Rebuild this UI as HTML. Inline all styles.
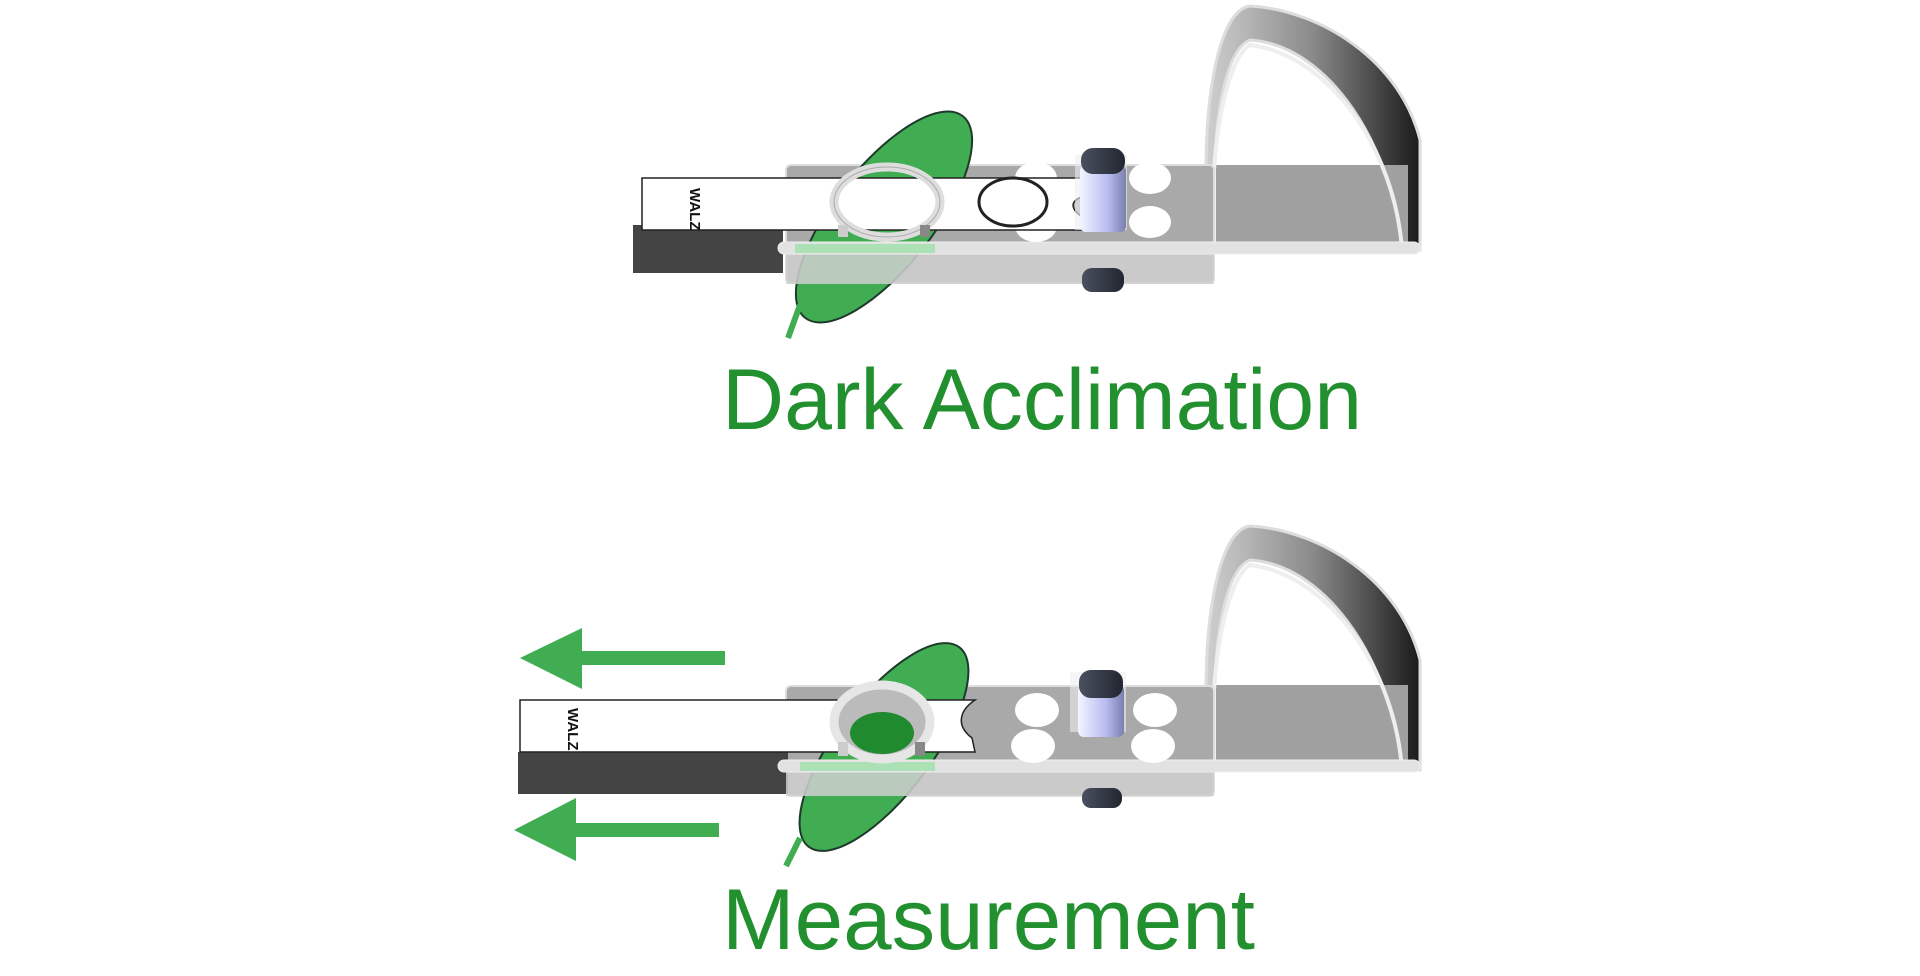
<!DOCTYPE html>
<html><head><meta charset="utf-8"><style>
html,body{margin:0;padding:0;background:#fff;width:1920px;height:976px;overflow:hidden}
svg{display:block}
text{font-family:"Liberation Sans",sans-serif}
</style></head><body>
<svg width="1920" height="976" viewBox="0 0 1920 976" xmlns="http://www.w3.org/2000/svg">
<defs>
<linearGradient id="clipg" x1="0" x2="1" y1="0" y2="0">
<stop offset="0" stop-color="#cfcfcf"/><stop offset="0.5" stop-color="#8a8a8a"/><stop offset="1" stop-color="#1a1a1a"/></linearGradient>
<linearGradient id="post" x1="0" x2="1"><stop offset="0" stop-color="#f4f4ff"/><stop offset="0.6" stop-color="#b8bcf0"/><stop offset="1" stop-color="#7a7fae"/></linearGradient>
<linearGradient id="cap" x1="0" x2="1"><stop offset="0" stop-color="#4a5060"/><stop offset="1" stop-color="#222630"/></linearGradient>
<g id="clip">
<path d="M1206,170 C1206,90 1220,10 1250,6 C1320,10 1400,60 1420,140 L1420,250 L1400,250 C1395,150 1330,45 1250,40 C1225,50 1215,120 1215,170 Z" fill="url(#clipg)" stroke="#ddd" stroke-width="3"/>
<rect x="1214" y="165" width="194" height="82" fill="#a0a0a0"/>
<path d="M1214,247 L1214,170 C1218,110 1232,55 1250,45 C1330,55 1395,150 1402,250" fill="none" stroke="#eee" stroke-width="4"/>
</g>
</defs>

<!-- TOP -->
<g>
<use href="#clip"/>
<rect x="786" y="165" width="428" height="118" rx="5" fill="#a9a9a9" stroke="#ddd" stroke-width="2"/>
<rect x="633" y="225" width="150" height="48" fill="#444"/>
<ellipse cx="884" cy="217" rx="128" ry="50" transform="rotate(-52 884 217)" fill="#41ad53" stroke="#1d3a2a" stroke-width="2"/>
<path d="M800,305 L788,338" stroke="#41ad53" stroke-width="6"/>
<rect x="786" y="244" width="428" height="40" fill="#d0d0d0" opacity="0.85"/>
<rect x="778" y="242" width="642" height="12" rx="6" fill="#e2e2e2" stroke="#eee"/>
<rect x="795" y="244" width="140" height="9" fill="#9fe0aa" opacity="0.8"/>
<ellipse cx="1036" cy="178" rx="21" ry="16" fill="#fff"/>
<ellipse cx="1150" cy="178" rx="21" ry="16" fill="#fff"/>
<ellipse cx="1150" cy="222" rx="21" ry="16" fill="#fff"/>
<ellipse cx="1036" cy="226" rx="21" ry="16" fill="#fff"/>
<path d="M642,178 L1085,178 L1085,196 C1068,200 1068,212 1093,222 L1093,230 L642,230 Z" fill="#fff" stroke="#222" stroke-width="1.5"/>
<text transform="translate(690,188) rotate(90)" font-size="15" font-weight="bold" fill="#111">WALZ</text>
<ellipse cx="1013" cy="202" rx="34" ry="24" fill="none" stroke="#222" stroke-width="3"/>
<ellipse cx="887" cy="202" rx="53" ry="35" fill="none" stroke="#ddd" stroke-width="9"/>
<ellipse cx="887" cy="202" rx="53" ry="35" fill="none" stroke="#aaa" stroke-width="1"/>
<rect x="838" y="225" width="10" height="12" fill="#ccc"/><rect x="920" y="225" width="10" height="12" fill="#888"/>
<rect x="1075" y="155" width="52" height="75" fill="#eee" opacity="0.6"/>
<rect x="1080" y="165" width="46" height="67" rx="6" fill="url(#post)"/>
<rect x="1081" y="148" width="44" height="26" rx="12" fill="url(#cap)"/>
<rect x="1082" y="268" width="42" height="24" rx="10" fill="url(#cap)"/>
<text x="722" y="429" font-size="86" fill="#23902f" textLength="640" lengthAdjust="spacingAndGlyphs">Dark Acclimation</text>
</g>

<!-- BOTTOM -->
<g>
<g transform="translate(0,520)"><use href="#clip"/></g>
<rect x="786" y="686" width="428" height="110" rx="5" fill="#a9a9a9" stroke="#ddd" stroke-width="2"/>
<rect x="518" y="752" width="270" height="42" fill="#444"/>
<ellipse cx="884" cy="747" rx="125" ry="48" transform="rotate(-53 884 747)" fill="#41ad53" stroke="#1d3a2a" stroke-width="2"/>
<path d="M800,838 L786,866" stroke="#41ad53" stroke-width="6"/>
<rect x="786" y="762" width="428" height="34" fill="#d0d0d0" opacity="0.85"/>
<rect x="778" y="760" width="642" height="12" rx="6" fill="#e2e2e2" stroke="#eee"/>
<rect x="800" y="762" width="135" height="9" fill="#9fe0aa" opacity="0.8"/>
<ellipse cx="1037" cy="710" rx="22" ry="17" fill="#fff"/>
<ellipse cx="1155" cy="710" rx="22" ry="17" fill="#fff"/>
<ellipse cx="1153" cy="746" rx="22" ry="17" fill="#fff"/>
<ellipse cx="1033" cy="746" rx="22" ry="17" fill="#fff"/>
<path d="M520,700 L975,700 C960,710 955,725 972,738 L975,752 L520,752 Z" fill="#fff" stroke="#222" stroke-width="1.5"/>
<text transform="translate(568,708) rotate(90)" font-size="15" font-weight="bold" fill="#111">WALZ</text>
<ellipse cx="882" cy="722" rx="48" ry="37" fill="#bbb" stroke="#e6e6e6" stroke-width="9"/>
<ellipse cx="882" cy="733" rx="32" ry="21" fill="#1f8a2e"/>
<rect x="838" y="742" width="10" height="14" fill="#ccc"/><rect x="915" y="742" width="10" height="14" fill="#888"/>
<rect x="1070" y="672" width="56" height="60" fill="#eee" opacity="0.6"/>
<rect x="1078" y="685" width="46" height="52" rx="6" fill="url(#post)"/>
<rect x="1079" y="670" width="44" height="28" rx="12" fill="url(#cap)"/>
<rect x="1082" y="788" width="40" height="20" rx="9" fill="url(#cap)"/>
<path d="M520,658 L582,628 L582,651 L725,651 L725,665 L582,665 L582,689 Z" fill="#41ad53"/>
<path d="M514,830 L576,798 L576,823 L719,823 L719,837 L576,837 L576,861 Z" fill="#41ad53"/>
<text x="722" y="949" font-size="86" fill="#23902f" textLength="533" lengthAdjust="spacingAndGlyphs">Measurement</text>
</g>
</svg>
</body></html>
